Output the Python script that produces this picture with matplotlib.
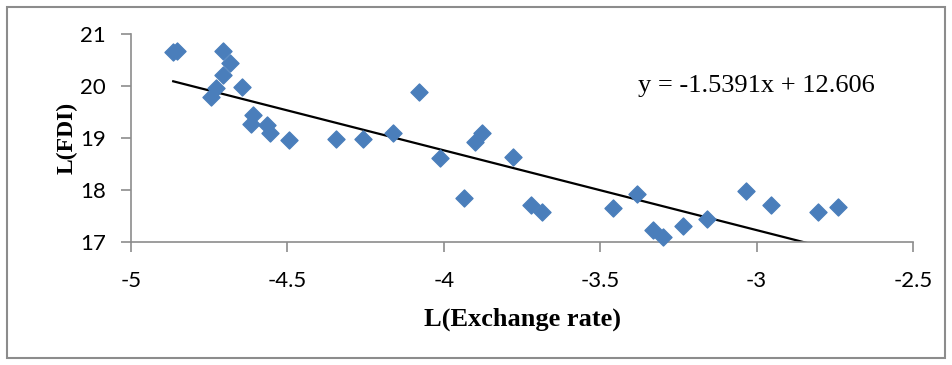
import numpy as np
import matplotlib.pyplot as plt
from matplotlib.patches import Rectangle

# L(Exchange rate) and L(FDI)
ex_rate = [-4.865, -4.852, -4.705, -4.683, -4.705, -4.729, -4.745, -4.644,
           -4.610, -4.617, -4.566, -4.555, -4.494, -4.344, -4.257, -4.164,
           -4.078, -4.012, -3.900, -3.879, -3.937, -3.780, -3.721, -3.687,
           -3.458, -3.381, -3.330, -3.300, -3.234, -3.157, -3.033, -2.954,
           -2.804, -2.741]
fdi = [20.65, 20.68, 20.68, 20.44, 20.22, 19.97, 19.79, 19.99,
       19.44, 19.27, 19.25, 19.09, 18.96, 18.98, 18.99, 19.09,
       19.88, 18.61, 18.93, 19.10, 17.85, 18.63, 17.71, 17.58,
       17.65, 17.92, 17.22, 17.09, 17.30, 17.44, 17.97, 17.71,
       17.58, 17.66]
slope = -1.5391
intercept = 12.606
x_ticks = [-5, -4.5, -4, -3.5, -3, -2.5]
y_ticks = [17, 18, 19, 20, 21]

fig = plt.figure(figsize=(9.52, 3.65), dpi=100)
fig.patches.append(Rectangle((7 / 952, 7 / 365), 938 / 952, 351 / 365,
                             transform=fig.transFigure, fill=False,
                             edgecolor='#8c8c8c', linewidth=1.5))

ax = fig.add_axes([131 / 952, 1 - 241.7 / 365, (913 - 131) / 952, (241.7 - 34.3) / 365])

ax.scatter(ex_rate, fdi, marker='D', s=75, color='#4a7ebb', zorder=3, clip_on=False)

xs = np.array([min(ex_rate), max(ex_rate)])
ax.plot(xs, slope * xs + intercept, color='black', linewidth=1.6, zorder=2)

ax.set_xlim(-5, -2.5)
ax.set_ylim(17, 21)
ax.set_xticks(x_ticks)
ax.set_xticklabels([f'{t:g}' for t in x_ticks])
ax.set_yticks(y_ticks)

for s in ['top', 'right']:
    ax.spines[s].set_visible(False)
for s in ['left', 'bottom']:
    ax.spines[s].set_color('#8c8c8c')
    ax.spines[s].set_linewidth(1.2)
ax.tick_params(axis='x', direction='out', length=7, width=1.2, color='#8c8c8c', pad=14)
ax.tick_params(axis='y', direction='out', length=7, width=1.2, color='#8c8c8c', pad=11)
for lbl in ax.get_xticklabels() + ax.get_yticklabels():
    lbl.set_fontfamily('Lato')
    lbl.set_fontsize(16)

ax.set_xlabel('L(Exchange rate)', fontfamily='Liberation Serif', fontweight='bold',
              fontsize=19, labelpad=12)
ax.set_ylabel('L(FDI)', fontfamily='Liberation Serif', fontweight='bold',
              fontsize=17, labelpad=2)

ax.text(-3.0, 20.0, 'y = -1.5391x + 12.606', fontfamily='Liberation Serif',
        fontsize=19, ha='center', va='center')

fig.savefig('out.png', dpi=100)
